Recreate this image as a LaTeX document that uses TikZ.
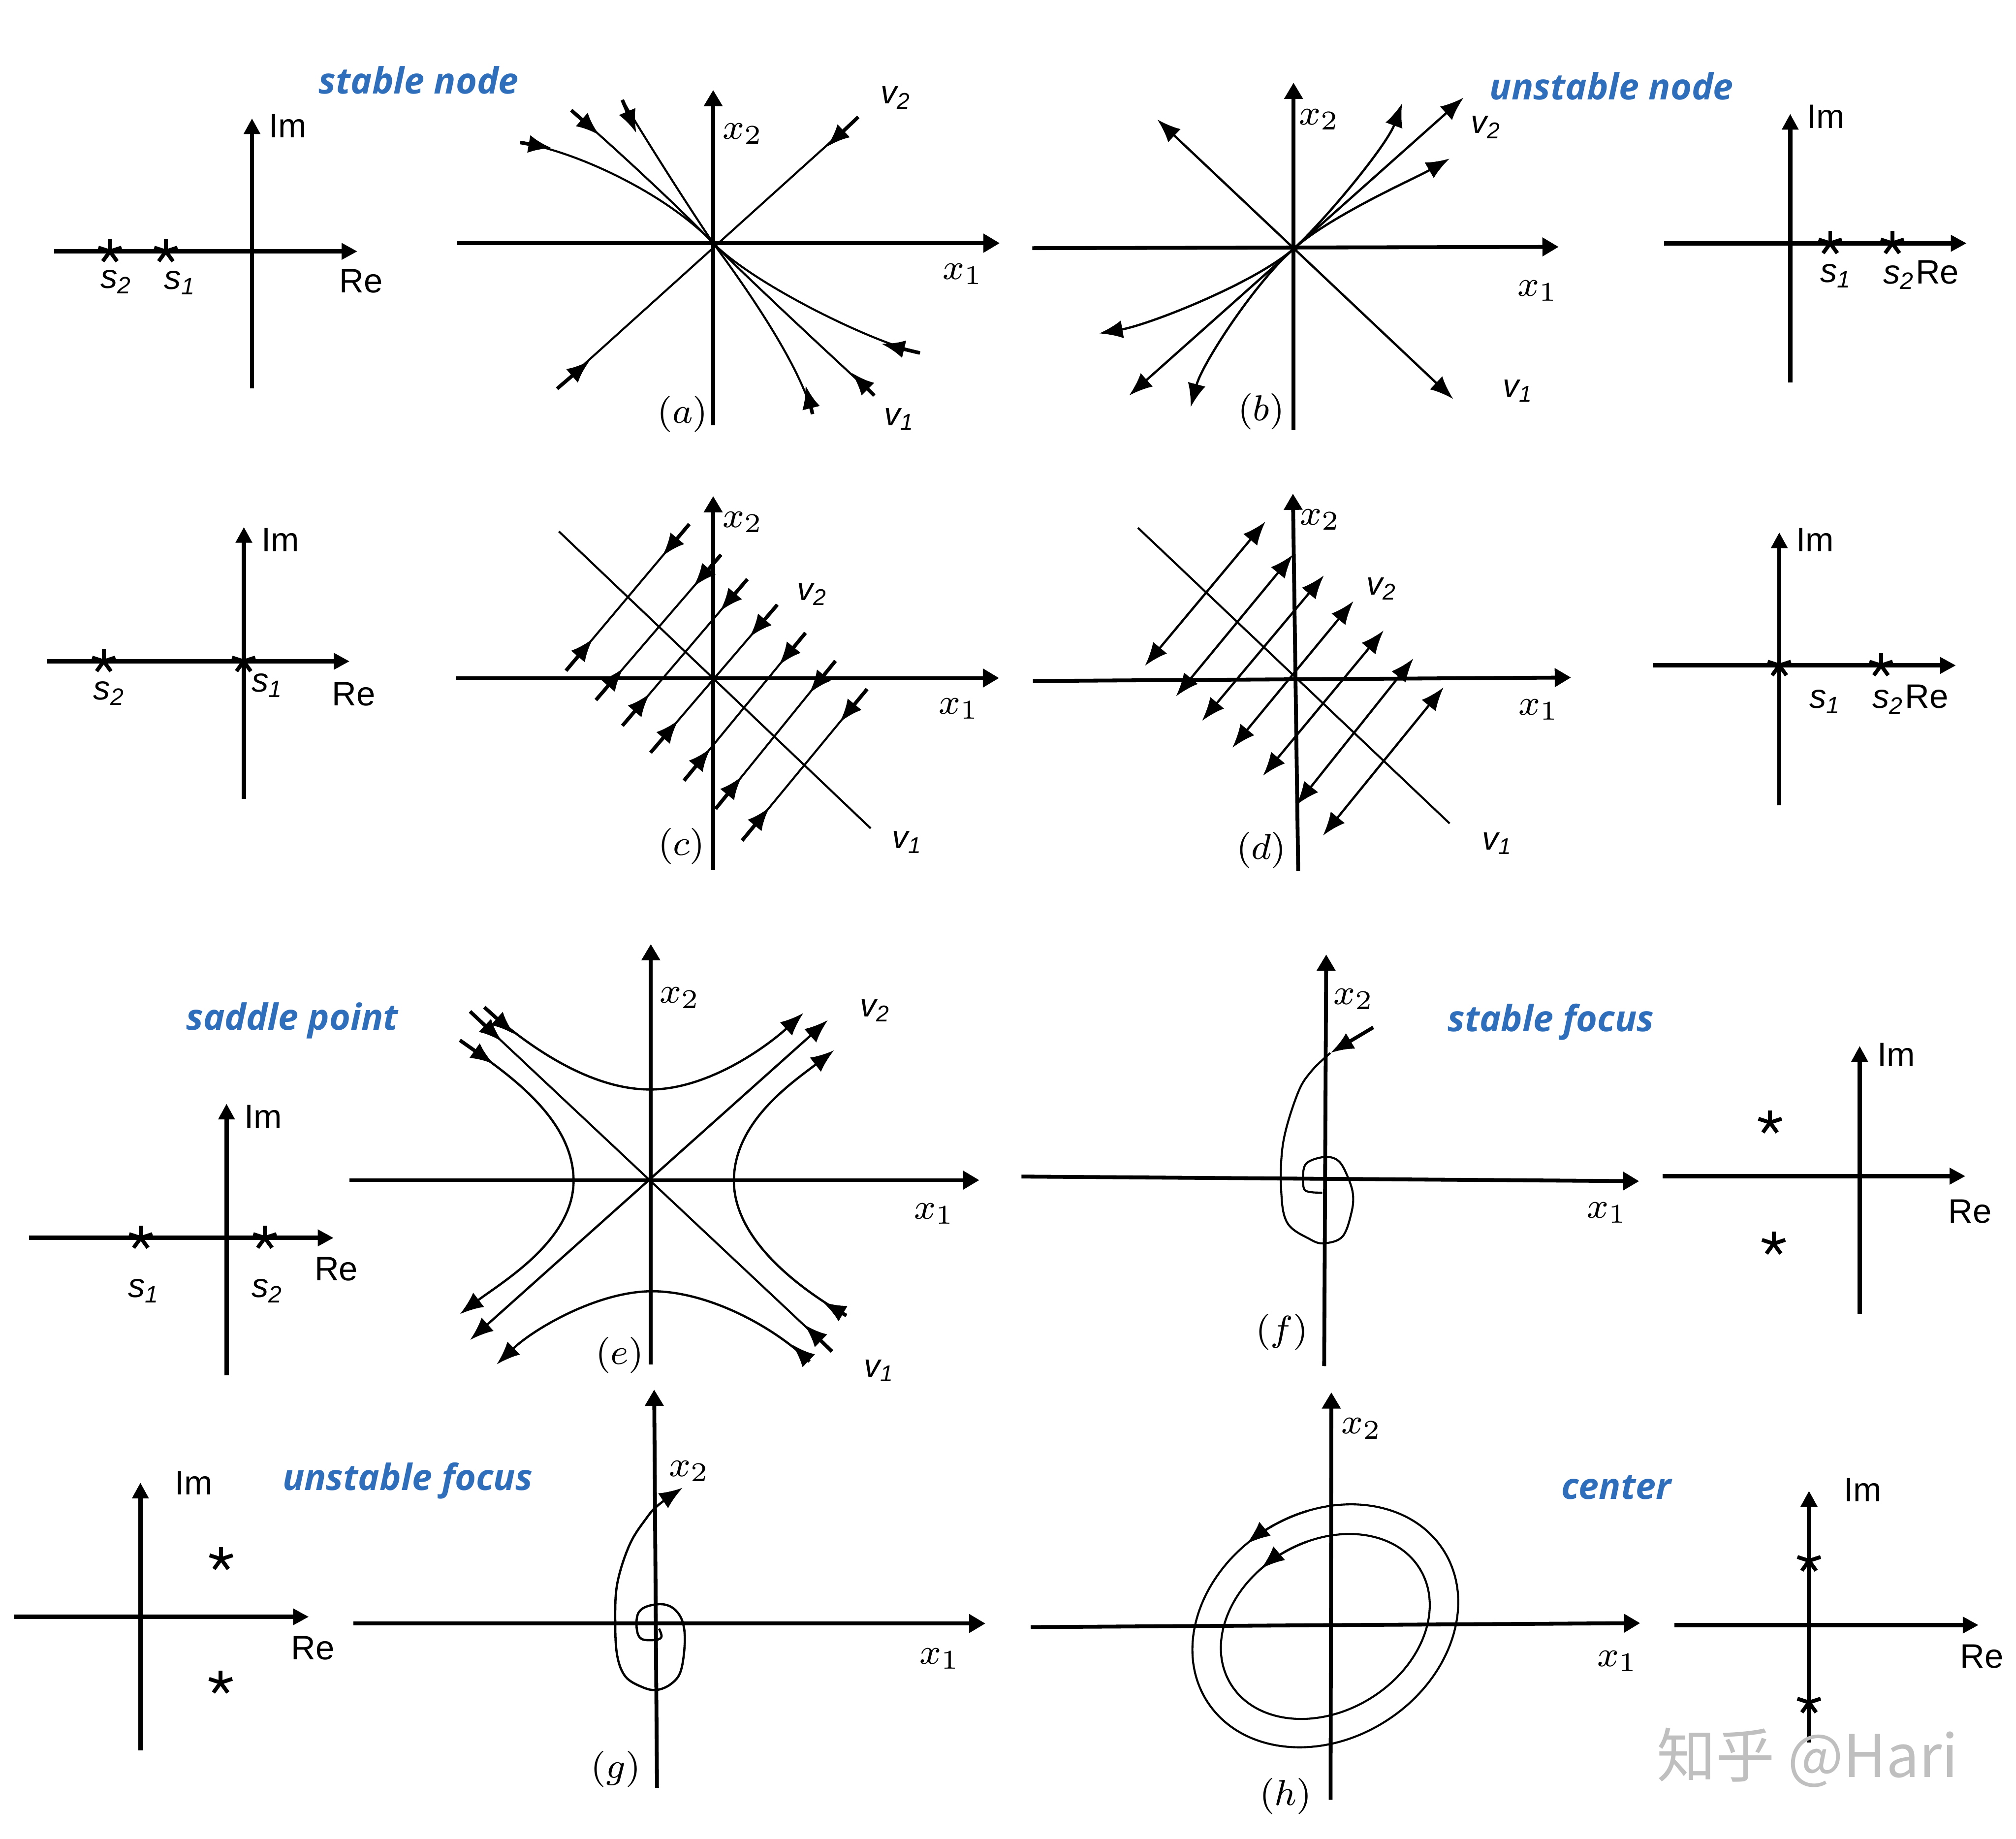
\documentclass[tikz,border=0pt]{standalone}
\usepackage{fontspec}
\setmainfont{Liberation Sans}
\newfontfamily\titlefont{Open Sans}
\newfontfamily\cjkfont{Noto Sans CJK SC}
\usetikzlibrary{arrows.meta,calc}
\definecolor{tblue}{RGB}{46,110,186}
\newcommand\astk[1]{\foreach \aa in {-90,-18,-162,126,54} {\draw[line width=0.85pt] (#1) -- ++(\aa:9.5);}}
\tikzset{
  paxis/.style={line width=0.95pt, -{Triangle[length=3.5pt,width=3.5pt]}},
  axis/.style={line width=0.85pt, -{Triangle[length=3.6pt,width=4pt]}},
  traj/.style={line width=0.45pt},
  tailar/.style={line width=0.8pt, -{Latex[length=5.2pt,width=4pt]}},
  tipar/.style={line width=0.5pt, -{Latex[length=5.2pt,width=4pt]}},
  dblar/.style={line width=0.5pt, {Latex[length=5.2pt,width=4pt]}-{Latex[length=5.2pt,width=4pt]}},
  plab/.style={font=\fontsize{7.5}{9}\selectfont, inner sep=0pt, anchor=base west},
  vlab/.style={font=\fontsize{7.2}{9}\selectfont\itshape, inner sep=0pt},
  xlab/.style={font=\fontsize{8.5}{10}\selectfont, inner sep=0pt},
  clab/.style={font=\fontsize{7.6}{9}\selectfont, inner sep=0pt},
  ttl/.style={font=\titlefont\bfseries\itshape\fontsize{8}{10}\selectfont, text=tblue, inner sep=0pt, anchor=base west},
}
\begin{document}
\begin{tikzpicture}[x=0.01cm, y=-0.01cm]
\useasboundingbox (0,0) rectangle (1568,1430);

% ---------- titles
\node[ttl] (t1) at (247.2,72.9) {stable node};
\node[ttl] (t2) at (1158,77.4) {unstable node};
\node[ttl] (t3) at (144.1,801) {saddle point};
\node[ttl] (t4) at (1125.3,802) {stable focus};
\node[ttl] (t5) at (219.1,1159) {unstable focus};
\node[ttl] (t6) at (1213.7,1166) {center};

% ---------- pole plot row 1 left
\draw[paxis] (42,195.5) -- (278,195.5);
\draw[paxis] (196,302) -- (196,92);
\astk{85.5,195.5}
\astk{129,195.5}
\node[plab] (im1) at (208.5,106.9) {Im};
\node[plab] (re1) at (263.3,227.7) {Re};
\node[plab] (s21) at (77.5,224.1) {\textit{s}\textsubscript{\textit{2}}};
\node[plab] (s11) at (127,225) {\textit{s}\textsubscript{\textit{1}}};

% ---------- pole plot row 1 right
\draw[paxis] (1294.1,189.2) -- (1529.6,189.2);
\draw[paxis] (1392.4,297.5) -- (1392.4,88.5);
\astk{1423.5,189.2}
\astk{1471.8,189.2}
\node[plab] (im2) at (1404.6,99.8) {Im};
\node[plab] (s12) at (1415,219.7) {\textit{s}\textsubscript{\textit{1}}};
\node[plab] (s22) at (1464,220.6) {\textit{s}\textsubscript{\textit{2}}Re};

% ---------- pole plot row 2 left
\draw[paxis] (36.5,514.3) -- (271.9,514.3);
\draw[paxis] (189.7,621.3) -- (189.7,409.8);
\astk{80.7,514.3}
\astk{189.5,514.3}
\node[plab] (im3) at (202.8,429) {Im};
\node[plab] (re3) at (257.5,548.9) {Re};
\node[plab] (s23) at (72,544) {\textit{s}\textsubscript{\textit{2}}};
\node[plab] (s13) at (195,538) {\textit{s}\textsubscript{\textit{1}}};

% ---------- pole plot row 2 right
\draw[paxis] (1285.5,517.5) -- (1521.3,517.5);
\draw[paxis] (1383.9,626.4) -- (1383.9,414);
\astk{1383.9,517.5}
\astk{1463,517.5}
\node[plab] (im4) at (1396.5,429) {Im};
\node[plab] (s14) at (1406.7,550.8) {\textit{s}\textsubscript{\textit{1}}};
\node[plab] (s24) at (1455.7,550.8) {\textit{s}\textsubscript{\textit{2}}Re};

% ---------- pole plot row 3 left
\draw[paxis] (22.7,962.7) -- (259.5,962.7);
\draw[paxis] (176.2,1069.7) -- (176.2,858.3);
\astk{109.5,962.7}
\astk{206,962.7}
\node[plab] (im5) at (189.3,877.5) {Im};
\node[plab] (re5) at (244,996) {Re};
\node[plab] (s15) at (99,1008.8) {\textit{s}\textsubscript{\textit{1}}};
\node[plab] (s25) at (195,1008.8) {\textit{s}\textsubscript{\textit{2}}};

% ---------- pole plot row 3 right
\draw[paxis] (1293,914.7) -- (1528.7,914.7);
\draw[paxis] (1446.4,1021.6) -- (1446.4,813.4);
\astk{1376.7,873}
\astk{1379.5,967.2}
\node[plab] (im6) at (1459.4,829.5) {Im};
\node[plab] (re6) at (1514.8,951.2) {Re};

% ---------- pole plot row 4 left
\draw[paxis] (11.1,1257.4) -- (240.2,1257.4);
\draw[paxis] (109.2,1361.2) -- (109.2,1153);
\astk{172,1212.5}
\astk{171.6,1308.6}
\node[plab] (im7) at (135.5,1162.6) {Im};
\node[plab] (re7) at (225.8,1290.7) {Re};

% ---------- pole plot row 4 right
\draw[paxis] (1302.2,1263.8) -- (1538.9,1263.8);
\draw[paxis] (1407,1355) -- (1407,1159.4);
\astk{1407,1213.8}
\astk{1407,1324}
\node[plab] (im8) at (1433.5,1167.7) {Im};
\node[plab] (re8) at (1524,1297.1) {Re};

% ---------- (a) stable node
\coordinate (Oa) at (554.7,189.1);
\draw[axis] (355.3,189.1) -- (777.6,189.1);
\draw[axis] (554.7,330.8) -- (554.7,70);
\draw[traj] (667.5,91) -- (433.3,302.3);
\draw[tailar] (667.5,91) -- (642.9,114.3);
\draw[tailar] (433.3,302.3) -- (458.8,280.4);
\draw[traj] (404.6,110.8) .. controls (450,118) and (520,152) .. (Oa);
\draw[tailar] (404.6,110.8) -- (429.3,115.2);
\draw[traj] (444.3,85.7) .. controls (475,112) and (530,163) .. (Oa);
\draw[tailar] (444.3,85.7) -- (466.2,105.1);
\draw[traj] (484,77.7) .. controls (500,105) and (535,160) .. (Oa);
\draw[tailar] (484,77.7) -- (495,103.6);
\draw[traj] (715.5,274.5) .. controls (675,265) and (585,220) .. (Oa);
\draw[tailar] (715.5,274.5) -- (685.4,267.3);
\draw[traj] (680,307.6) .. controls (650,280) and (580,215) .. (Oa);
\draw[tailar] (680,307.6) -- (662.1,289.7);
\draw[traj] (632,322) .. controls (622,285) and (585,230) .. (Oa);
\draw[tailar] (632,322) -- (626.5,299.6);
\node[xlab] (x2a) at (578,104) {$x_2$};
\node[xlab] (x1a) at (749,213) {$x_1$};
\node[vlab] (v2a) at (697,76) {v\textsubscript{2}};
\node[vlab] (v1a) at (700,326) {v\textsubscript{1}};
\node[clab] (la) at (531,322) {$(a)$};

% ---------- (b) unstable node
\coordinate (Ob) at (1006.1,193.5);
\draw[axis] (802.9,193) -- (1212.3,192);
\draw[axis] (1006.1,334.5) -- (1006.1,64.3);
\draw[dblar] (900.1,92.9) -- (1130.3,310.3);
\draw[dblar] (878.2,307.6) -- (1138.4,75.9);
\draw[tipar] (Ob) .. controls (1030,172) and (1078.5,113.3) .. (1090.5,80.4);
\draw[tipar] (Ob) .. controls (1036,167) and (1101.5,138.3) .. (1127.5,123.3);
\draw[tipar] (Ob) .. controls (976.2,220) and (894.3,252.4) .. (854.9,259.3);
\draw[tipar] (Ob) .. controls (976,220) and (935,282.8) .. (926.1,316.6);
\node[xlab] (x2b) at (1026,93) {$x_2$};
\node[xlab] (x1b) at (1196,226) {$x_1$};
\node[vlab] (v2b) at (1156,99) {v\textsubscript{2}};
\node[vlab] (v1b) at (1181,304) {v\textsubscript{1}};
\node[clab] (lb) at (981,320) {$(b)$};

% ---------- (c)
\draw[axis] (355,527.3) -- (777.1,527.3);
\draw[axis] (554.7,676.5) -- (554.7,385.8);
\draw[traj] (434.7,413.3) -- (677.2,644.2);
\foreach \bx/\by/\tx/\ty in {440.2/521.6/536.1/407.6, 463.5/544.4/560.8/431.4, 484.1/564.4/581.3/450.4, 506/585.3/604.6/470.3, 532/607.1/626.5/492.2, 556.6/629/649.8/514.0, 577.2/653.7/674.4/535.9}{
  \draw[traj] (\bx,\by) -- (\tx,\ty);
  \draw[tailar] (\bx,\by) -- ($(\bx,\by)!0.22!(\tx,\ty)$);
  \draw[tailar] (\tx,\ty) -- ($(\tx,\ty)!0.22!(\bx,\by)$);
}
\node[xlab] (x2c) at (578,406) {$x_2$};
\node[xlab] (x1c) at (746,551) {$x_1$};
\node[vlab] (v2c) at (632,462) {v\textsubscript{2}};
\node[vlab] (v1c) at (706,655) {v\textsubscript{1}};
\node[clab] (lc) at (530,658) {$(c)$};

% ---------- (d)
\draw[axis] (803.4,529.6) -- (1221.9,526.9);
\draw[axis] (1009.7,677.4) -- (1005.6,383.9);
\draw[traj] (885.1,410.5) -- (1127.5,640.4);
\foreach \bx/\by/\tx/\ty in {890.5/517.8/984.2/405.7, 914.6/541.6/1005.6/431.4, 934.9/560.6/1029.7/447.5, 958.5/581.5/1052.7/467.5, 982.3/603.3/1076.2/490.3, 1008.3/626.1/1099.3/512.1, 1028.9/649.9/1122.8/534.5}{
  \draw[dblar] (\bx,\by) -- (\tx,\ty);
}
\node[xlab] (x2d) at (1027,404) {$x_2$};
\node[xlab] (x1d) at (1197,552) {$x_1$};
\node[vlab] (v2d) at (1075,458) {v\textsubscript{2}};
\node[vlab] (v1d) at (1165,656) {v\textsubscript{1}};
\node[clab] (ld) at (981,661) {$(d)$};

% ---------- (e) saddle
\draw[axis] (271.8,917.8) -- (761.7,917.8);
\draw[axis] (506.2,1061) -- (506.2,734.2);
\draw[traj] (365.6,786.6) -- (647.1,1051);
\draw[tailar] (365.6,786.6) -- (390.5,810);
\draw[tailar] (647.1,1051) -- (625.4,1030);
\draw[dblar] (365.6,1042.1) -- (643.9,793.3);
% upper
\draw[tipar] (376.7,783.3) .. controls (412.4,815.5) and (460,847.3) .. (505.6,847.3)
   .. controls (550,847.3) and (595.4,814.8) .. (624.9,787.8);
\draw[tailar] (376.7,783.3) -- (400,804.3);
% lower
\draw[tipar] (629.6,1058.8) .. controls (600.9,1031) and (550,1004.2) .. (507.2,1004.2)
   .. controls (465,1004.2) and (415.1,1033.5) .. (386.3,1061.1);
\draw[tailar] (629.6,1058.8) -- (615.9,1045.5);
% left
\draw[tipar] (357.7,809) .. controls (390.5,832) and (446.1,868) .. (446.1,918.3)
   .. controls (446.1,965) and (389.5,997.7) .. (357.7,1022);
\draw[tailar] (357.7,809) -- (384.1,827.6);
% right
\draw[tipar] (658.3,1023.1) .. controls (623.6,1003.3) and (570.8,965) .. (570.8,918.3)
   .. controls (570.8,872) and (617.1,841.3) .. (648.7,816.8);
\draw[tailar] (658.3,1023.1) -- (639.8,1012.5);
\node[xlab] (x2e) at (529,776) {$x_2$};
\node[xlab] (x1e) at (727,944) {$x_1$};
\node[vlab] (v2e) at (681,786) {v\textsubscript{2}};
\node[vlab] (v1e) at (684,1066) {v\textsubscript{1}};
\node[clab] (le) at (482,1054) {$(e)$};

% ---------- (f) stable focus
\draw[axis] (794.5,915) -- (1274.9,918.6);
\draw[axis] (1029.9,1062.4) -- (1031.5,742.3);
\draw[tailar] (1068.1,799) -- (1034.7,818.9);
\draw[traj] plot[smooth, tension=0.6] coordinates {(1034.7,818.9) (1020,833) (1009.3,850.4) (998.1,888.2) (996.5,925.9) (1001.3,951.1) (1018.8,963.7) (1029.9,966.9) (1044.2,961.6) (1051.2,942.7) (1052.2,928.0) (1047.4,913.3) (1041.1,902.9) (1031.5,899.7) (1018.8,902.9) (1014.0,909.1) (1014.0,923.8) (1018.8,927.0) (1028.5,927.5)};
\node[xlab] (x2f) at (1053,777) {$x_2$};
\node[xlab] (x1f) at (1250,943) {$x_1$};
\node[clab] (lf) at (997,1036) {$(f)$};

% ---------- (g) unstable focus
\draw[axis] (275,1262.6) -- (766.4,1262.6);
\draw[axis] (511,1390.3) -- (508.8,1080.7);
\draw[tipar] plot[smooth, tension=0.6] coordinates {(512.6,1266.6) (514.5,1272.7) (510.3,1275.3) (499.2,1274.7) (495.4,1267.7) (496.0,1255.6) (502.4,1249.6) (515.1,1247.6) (524.7,1251.6) (531.0,1261.6) (532.6,1277.7) (529.4,1299.8) (521.5,1309.9) (510.3,1314.3) (499.2,1311.9) (486.5,1303.9) (480.1,1287.8) (478.5,1261.6) (480.1,1231.5) (489.7,1201.3) (502.4,1181.2) (512,1170.5) (531,1157)};
\node[xlab] (x2g) at (536,1144) {$x_2$};
\node[xlab] (x1g) at (731,1290) {$x_1$};
\node[clab] (lg) at (479,1376) {$(g)$};

% ---------- (h) center
\draw[axis] (801.7,1265.4) -- (1275.7,1262.3);
\draw[axis] (1034.9,1399.7) -- (1035.5,1082.8);
\begin{scope}[shift={(1030.8,1264.4)}, rotate=32.6, y=0.01cm]
  \draw[traj] (0,0) ellipse [x radius=109.1, y radius=87.8];
  \draw[tipar] plot[domain=70:99, samples=12, smooth] ({109.1*cos(\x)},{87.8*sin(\x)});
\end{scope}
\begin{scope}[shift={(1030.8,1264.9)}, rotate=31.1, y=0.01cm]
  \draw[traj] (0,0) ellipse [x radius=86.1, y radius=66];
  \draw[tipar] plot[domain=75:103, samples=12, smooth] ({86.1*cos(\x)},{66*sin(\x)});
\end{scope}
\node[xlab] (x2h) at (1059,1111) {$x_2$};
\node[xlab] (x1h) at (1258,1292) {$x_1$};
\node[clab] (lh) at (1000,1397) {$(h)$};

% ---------- watermark
\node[font=\cjkfont\fontsize{13}{15}\selectfont, text=black!25, inner sep=0pt] (wm) at (1406,1367) {知乎 @Hari};
\end{tikzpicture}
\end{document}
